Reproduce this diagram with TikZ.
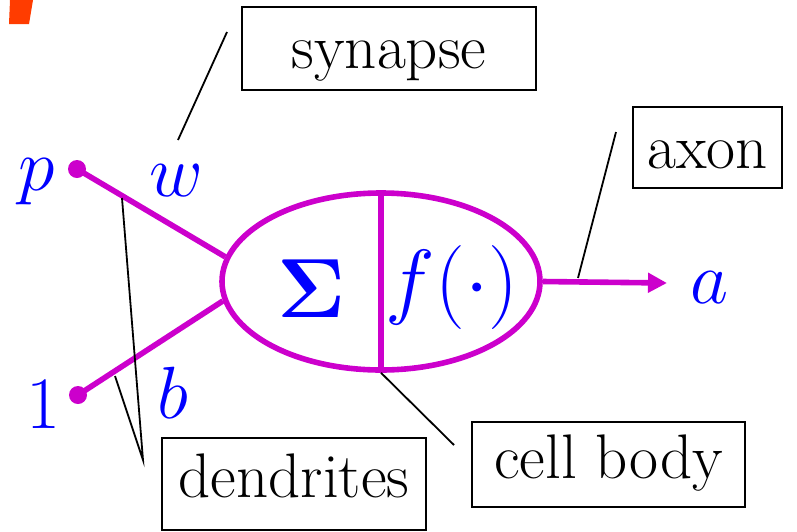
\RequirePackage{fix-cm}
\documentclass[tikz,border=0pt]{standalone}
\usetikzlibrary{arrows.meta,shapes.geometric,calc}

\definecolor{nerve}{RGB}{204,0,204}
\definecolor{sym}{RGB}{0,0,255}
\definecolor{titlered}{RGB}{255,60,0}

\begin{document}
\begin{tikzpicture}[
  x=0.5pt, y=-0.5pt, >={Triangle[length=9.5pt,width=9.5pt]},
  label/.style={draw, line width=1pt, inner sep=0pt, text depth=0pt, font=\fontsize{31.5}{36}\selectfont},
  var/.style={text=sym, inner sep=0pt, anchor=base, font=\fontsize{37}{42}\selectfont},
  big/.style={text=sym, inner sep=0pt, anchor=base, font=\fontsize{42}{46}\selectfont},
  wire/.style={draw=nerve, line width=2.8pt},
  lead/.style={draw=black, line width=0.9pt},
  terminal/.style={circle, fill=nerve, inner sep=0pt, minimum size=9pt},
]
\useasboundingbox (0,0) rectangle (797,531);

% cropped piece of the slide title
\fill[titlered] (10,0) -- (33,0) -- (29,24) -- (9,24) -- cycle;

% cell body with the summation and transfer halves
\node[ellipse, draw=nerve, line width=2.8pt, minimum width=159pt, minimum height=88.5pt, inner sep=0pt] (cell) at (381,281.5) {};
\draw[wire] (cell.north) -- (cell.south);
\node[big] (sum) at (312,317) {$\mathbf{\Sigma}$};
\node[big] (act) at (452,308) {$f(\cdot)$};

% inputs
\node[terminal] (pin) at (77,169) {};
\node[terminal] (one) at (78,395) {};
\node[var] (p) at (37,190) {$p$};
\node[var] (bias) at (43,428) {$1$};
\node[var] (w) at (176,196) {$w$};
\node[var] (b) at (173,418) {$b$};
\draw[wire] (pin.center) -- (cell.171.6);
\draw[wire] (one.center) -- (cell.187.7);

% output
\coordinate (tip) at (667,283);
\draw[wire, ->] (cell.east) -- (tip);
\node[var] (a) at (710,303) {$a$};

% name tags
\node[label, minimum width=147pt, minimum height=41.5pt, text height=19.5pt] (syn) at (389,48.5) {synapse};
\node[label, minimum width=74.5pt, minimum height=40.5pt, text height=20.5pt] (axon) at (707.5,147.5) {axon};
\node[label, minimum width=132pt, minimum height=46pt, text height=13pt] (dend) at (294,484) {dendrites};
\node[label, minimum width=136.5pt, minimum height=42.5pt, text height=13.5pt] (body) at (608.5,464.5) {cell body};

% pointers to the parts
\coordinate (synfoot) at (178,140);
\coordinate (syntop) at (227,32);
\coordinate (axfoot) at (578,278);
\coordinate (axtop) at (616,132);
\coordinate (dendup) at (122,198);
\coordinate (denddown) at (115,376);
\coordinate (dendmeet) at (143,460);
\coordinate (bodyend) at (454,445);
\draw[lead] (synfoot) -- (syntop);
\draw[lead] (axfoot) -- (axtop);
\draw[lead] (dendup) -- (dendmeet) -- (denddown);
\draw[lead] (cell.south) -- (bodyend);

\end{tikzpicture}
\end{document}
